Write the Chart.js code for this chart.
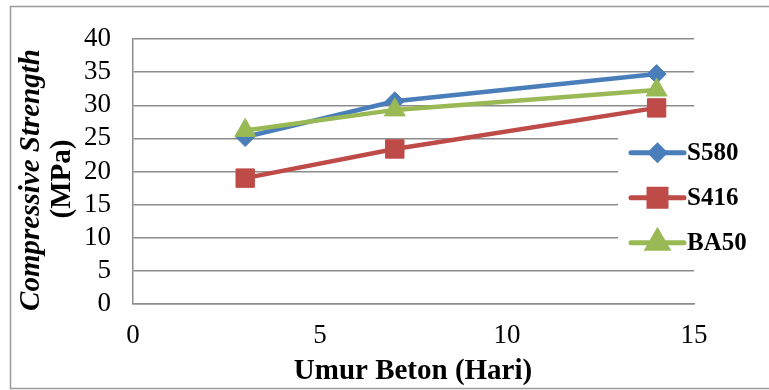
<!DOCTYPE html>
<html>
<head>
<meta charset="utf-8">
<title>Compressive Strength vs Umur Beton</title>
<script src="https://cdn.jsdelivr.net/npm/chart.js@4/dist/chart.umd.min.js"></script>
<style>
  html, body { margin: 0; padding: 0; background: #ffffff; }
  #wrap { width: 769px; height: 390px; position: relative; }
</style>
</head>
<body>
<div id="wrap"><canvas id="chart"></canvas></div>
<script>
// Concrete age (days) and compressive strength (MPa) per mix
const days = [3, 7, 14];
const seriesNames = ['S580', 'S416', 'BA50'];
const s580 = [25.2, 30.6, 34.7];
const s416 = [19.0, 23.4, 29.6];
const ba50 = [26.2, 29.3, 32.3];
const xTicks = [0, 5, 10, 15];
const yTicks = [0, 5, 10, 15, 20, 25, 30, 35, 40];

const SERIF = "'Liberation Serif', 'Times New Roman', serif";
const GRID = '#8c8c8c';

function points(values) {
  return days.map((d, i) => ({ x: d, y: values[i] }));
}

// Outer frame around the whole figure
const framePlugin = {
  id: 'frame',
  beforeDraw(chart) {
    const ctx = chart.ctx;
    ctx.save();
    ctx.strokeStyle = '#9a9a9a';
    ctx.lineWidth = 1.5;
    ctx.strokeRect(10.5, 6.5, 780, 382);
    ctx.restore();
  }
};

// Two-line rotated y-axis title: italic first line, upright unit line
const yTitlePlugin = {
  id: 'yTitle',
  afterDraw(chart) {
    const ctx = chart.ctx;
    ctx.save();
    ctx.fillStyle = '#000';
    ctx.textAlign = 'center';
    ctx.textBaseline = 'middle';
    ctx.translate(32, 180);
    ctx.rotate(-Math.PI / 2);
    ctx.font = 'italic bold 29px ' + SERIF;
    ctx.fillText('Compressive Strength', 0, 0);
    ctx.restore();
    ctx.save();
    ctx.fillStyle = '#000';
    ctx.textAlign = 'center';
    ctx.textBaseline = 'middle';
    ctx.translate(63, 179);
    ctx.rotate(-Math.PI / 2);
    ctx.font = 'bold 29px ' + SERIF;
    ctx.fillText('(MPa)', 0, 0);
    ctx.restore();
  }
};

// Legend panel on the right side of the plot, built from the datasets
const legendPlugin = {
  id: 'sideLegend',
  afterDraw(chart) {
    const ctx = chart.ctx;
    const ds = chart.data.datasets;
    ctx.save();
    ctx.fillStyle = '#ffffff';
    ctx.fillRect(618, 120, 160, 140);
    const legendRadius = { rectRot: 7, rect: 12, triangle: 11 };
    ds.forEach((d, i) => {
      const y = 152.7 + 45 * i;
      ctx.strokeStyle = d.borderColor;
      ctx.lineWidth = 5;
      ctx.lineCap = 'round';
      ctx.beginPath();
      ctx.moveTo(631, y);
      ctx.lineTo(684, y);
      ctx.stroke();
      ctx.fillStyle = d.pointBackgroundColor;
      ctx.strokeStyle = d.pointBorderColor;
      Chart.helpers.drawPoint(ctx, {
        pointStyle: d.pointStyle,
        radius: legendRadius[d.pointStyle],
        rotation: 0,
        borderWidth: 1
      }, 657.5, y);
      ctx.fillStyle = '#000';
      ctx.font = 'bold 25px ' + SERIF;
      ctx.textAlign = 'left';
      ctx.textBaseline = 'middle';
      ctx.fillText(d.label, 687, y + 1);
    });
    ctx.restore();
  }
};

// X-axis title under the tick labels
const xTitlePlugin = {
  id: 'xTitle',
  afterDraw(chart) {
    const ctx = chart.ctx;
    ctx.save();
    ctx.fillStyle = '#000';
    ctx.font = 'bold 29px ' + SERIF;
    ctx.textAlign = 'center';
    ctx.textBaseline = 'middle';
    ctx.fillText('Umur Beton (Hari)', 413, 372);
    ctx.restore();
  }
};

const colors = [
  { line: '#4a7ebb', fill: '#4a7ebb', style: 'rectRot', r: 9.5, order: 3 },
  { line: '#be4b48', fill: '#be4b48', style: 'rect', r: 13, order: 1 },
  { line: '#98b954', fill: '#98b954', style: 'triangle', r: 12, order: 2 }
];
const values = [s580, s416, ba50];

const datasets = seriesNames.map((name, i) => ({
  label: name,
  data: points(values[i]),
  borderColor: colors[i].line,
  backgroundColor: colors[i].fill,
  pointBackgroundColor: colors[i].fill,
  pointBorderColor: colors[i].line,
  pointBorderWidth: 1,
  pointStyle: colors[i].style,
  pointRadius: colors[i].r,
  pointHoverRadius: colors[i].r,
  borderWidth: 4.5,
  borderCapStyle: 'round',
  borderJoinStyle: 'round',
  tension: 0,
  order: colors[i].order
}));

new Chart(document.getElementById('chart'), {
  type: 'line',
  data: { datasets },
  plugins: [framePlugin, yTitlePlugin, legendPlugin, xTitlePlugin],
  options: {
    responsive: true,
    maintainAspectRatio: false,
    animation: false,
    events: [],
    layout: { padding: { top: 39, right: 75, left: 0, bottom: 0 } },
    plugins: {
      legend: { display: false },
      tooltip: { enabled: false },
      title: { display: false }
    },
    scales: {
      x: {
        type: 'linear',
        min: 0,
        max: 15,
        afterBuildTicks(scale) { scale.ticks = xTicks.map(v => ({ value: v })); },
        afterFit(scale) { scale.height = 86; },
        grid: { display: false, drawTicks: false },
        border: { display: true, color: GRID, width: 1.5 },
        ticks: {
          color: '#000',
          padding: 16,
          maxRotation: 0,
          autoSkip: false,
          font: { family: SERIF, size: 27 }
        }
      },
      y: {
        type: 'linear',
        min: 0,
        max: 40,
        afterBuildTicks(scale) { scale.ticks = yTicks.map(v => ({ value: v })); },
        afterFit(scale) { scale.width = 133; },
        grid: { color: GRID, lineWidth: 1.5, drawTicks: false },
        border: { display: true, color: GRID, width: 1.5 },
        ticks: {
          color: '#000',
          padding: 22,
          autoSkip: false,
          font: { family: SERIF, size: 27, lineHeight: 1 }
        }
      }
    }
  }
});
</script>
</body>
</html>
